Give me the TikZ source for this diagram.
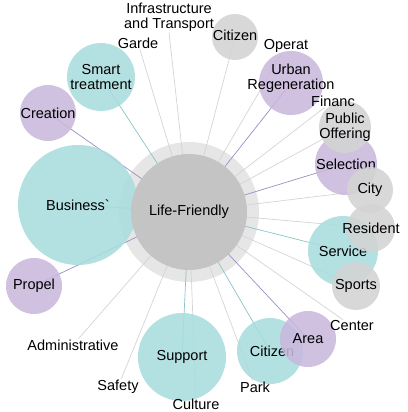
\documentclass[tikz,border=0pt]{standalone}
\usepackage{fontspec}
\setmainfont{Liberation Sans}
\definecolor{tealc}{HTML}{A9DCDD}
\definecolor{lilacc}{HTML}{C9B8DC}
\definecolor{greyc}{HTML}{D3D3D3}
\definecolor{hubc}{HTML}{C4C4C4}
\definecolor{haloc}{HTML}{E6E6E6}
\definecolor{teall}{HTML}{86C4C5}
\definecolor{lilacl}{HTML}{9E8CC4}
\definecolor{greyl}{HTML}{D4D4D4}
\pgfdeclarelayer{halo}
\pgfdeclarelayer{links}
\pgfsetlayers{halo,links,main}
\tikzset{
  bubble/.style={circle, inner sep=0pt, fill opacity=0.88},
  word/.style={inner sep=1pt, align=center},
  every label/.style={align=center, text opacity=1},
  link/.style={line width=0.7pt}
}
\begin{document}
\begin{tikzpicture}[x=1pt, y=-1pt, font=\fontsize{14.5}{15}\selectfont]
  \useasboundingbox (0,0) rectangle (407,412);

  \begin{pgfonlayer}{halo}
    \node[circle, fill=haloc, minimum size=140pt] (halo) at (189,212) {};
  \end{pgfonlayer}

  % bubbles round the hub
  \node[bubble, fill=tealc, minimum size=68pt, label={center:{Smart\\treatment}}] (smart) at (101,77) {};
  \node[bubble, fill=lilacc, minimum size=56pt, label=center:Creation] (creation) at (48,113) {};
  \node[bubble, fill=tealc, minimum size=120pt, label=center:Business\textasciigrave] (business) at (78,205) {};
  \node[bubble, fill=lilacc, minimum size=56pt, label=center:Propel] (propel) at (34,286) {};
  \node[bubble, fill=tealc, minimum size=88pt, label=center:Support] (support) at (182,357) {};
  \node[bubble, fill=tealc, minimum size=66pt, label={[xshift=2pt]center:Citizen}] (citizenb) at (270,351) {};
  \node[bubble, fill=lilacc, minimum size=56pt, label=center:Area] (area) at (308,339) {};
  \node[bubble, fill=tealc, minimum size=70pt, label=center:Service] (service) at (343,251) {};
  \node[bubble, fill=greyc, minimum size=48pt, label=center:Resident] (resident) at (371,228) {};
  \node[bubble, fill=greyc, minimum size=48pt, label=center:Sports] (sports) at (356,286) {};
  \node[bubble, fill=lilacc, minimum size=62pt, label=center:Selection] (selection) at (346,164) {};
  \node[bubble, fill=greyc, minimum size=52pt, label={center:{Public\\Offering}}] (puboff) at (345,127) {};
  \node[bubble, fill=greyc, minimum size=46pt, label=center:City] (city) at (370,190) {};
  \node[bubble, fill=lilacc, minimum size=64pt, label={[yshift=5pt]center:{Urban\\Regeneration}}] (urban) at (291,83) {};
  \node[bubble, fill=greyc, minimum size=46pt, label={[yshift=2pt]center:Citizen}] (citizent) at (235,37) {};

  \node[circle, fill=hubc, minimum size=116pt] (hub) at (189,212) {Life-Friendly};

  % bare words
  \node[word] (infra) at (169,17) {Infrastructure\\and Transport};
  \node[word] (garde) at (138,43) {Garde};
  \node[word] (operat) at (286,46) {Operat};
  \node[word] (financ) at (333,101) {Financ};
  \node[word] (center) at (352,326) {Center};
  \node[word] (park) at (255,387) {Park};
  \node[word] (culture) at (196,404) {Culture};
  \node[word] (safety) at (118,387) {Safety};
  \node[word] (admin) at (73,345) {Administrative};

  \begin{pgfonlayer}{links}
    \draw[link, teall] (hub.center) -- (smart.center);
    \draw[link, lilacl] (hub.center) -- (creation.center);
    \draw[link, teall] (hub.center) -- (business.center);
    \draw[link, lilacl] (hub.center) -- (propel.center);
    \draw[link, teall] (hub.center) -- (support.center);
    \draw[link, teall] (hub.center) -- (citizenb.center);
    \draw[link, lilacl] (hub.center) -- (area.center);
    \draw[link, teall] (hub.center) -- (service.center);
    \draw[link, greyl] (hub.center) -- (resident.center);
    \draw[link, greyl] (hub.center) -- (sports.center);
    \draw[link, lilacl] (hub.center) -- (selection.center);
    \draw[link, greyl] (hub.center) -- (puboff.center);
    \draw[link, greyl] (hub.center) -- (city.center);
    \draw[link, lilacl] (hub.center) -- (urban.center);
    \draw[link, greyl] (hub.center) -- (citizent.center);
    \draw[link, greyl] (hub.center) -- (infra.south);
    \draw[link, greyl] (hub.center) -- (garde);
    \draw[link, greyl] (hub.center) -- (operat);
    \draw[link, greyl] (hub.center) -- (financ);
    \draw[link, greyl] (hub.center) -- (center);
    \draw[link, greyl] (hub.center) -- (park);
    \draw[link, greyl] (hub.center) -- (culture);
    \draw[link, greyl] (hub.center) -- (safety);
    \draw[link, greyl] (hub.center) -- (admin);
  \end{pgfonlayer}
\end{tikzpicture}
\end{document}
